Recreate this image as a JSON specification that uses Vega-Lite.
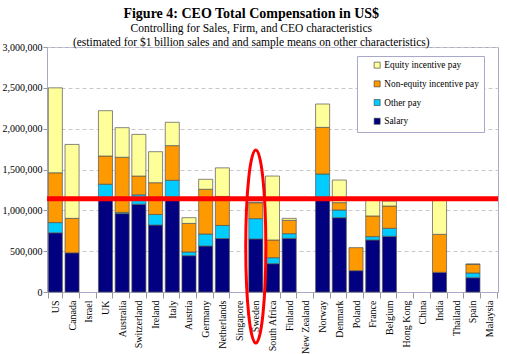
{
  "$schema": "https://vega.github.io/schema/vega-lite/v6.json",
  "width": 451,
  "height": 245,
  "autosize": {"type": "none"},
  "padding": {"left": 47, "top": 47, "right": 9, "bottom": 62},
  "background": "white",
  "title": {
    "text": "Figure 4: CEO Total Compensation in US$",
    "subtitle": ["Controlling for Sales, Firm, and CEO characteristics", "(estimated for $1 billion sales and and sample means on other characteristics)"],
    "font": "Liberation Serif",
    "fontSize": 14,
    "fontWeight": "bold",
    "color": "black",
    "subtitleFont": "Liberation Serif",
    "subtitleFontSize": 11.5,
    "subtitleColor": "black",
    "subtitleLineHeight": 14,
    "subtitlePadding": 2,
    "anchor": "middle",
    "frame": "bounds",
    "offset": -6
  },
  "config": {
    "view": {"stroke": "#a8a8c8", "strokeWidth": 1},
    "axis": {"labelFont": "Liberation Serif", "labelColor": "black", "labelFontSize": 10}
  },
  "datasets": {
    "pay": [
      {"country": "US", "component": "Salary", "value": 725000},
      {"country": "US", "component": "Other pay", "value": 125000},
      {"country": "US", "component": "Non-equity incentive pay", "value": 610000},
      {"country": "US", "component": "Equity incentive pay", "value": 1040000},
      {"country": "Canada", "component": "Salary", "value": 480000},
      {"country": "Canada", "component": "Non-equity incentive pay", "value": 422000},
      {"country": "Canada", "component": "Equity incentive pay", "value": 905000},
      {"country": "UK", "component": "Salary", "value": 1120000},
      {"country": "UK", "component": "Other pay", "value": 200000},
      {"country": "UK", "component": "Non-equity incentive pay", "value": 345000},
      {"country": "UK", "component": "Equity incentive pay", "value": 555000},
      {"country": "Australia", "component": "Salary", "value": 960000},
      {"country": "Australia", "component": "Other pay", "value": 15000},
      {"country": "Australia", "component": "Non-equity incentive pay", "value": 675000},
      {"country": "Australia", "component": "Equity incentive pay", "value": 362000},
      {"country": "Switzerland", "component": "Salary", "value": 1075000},
      {"country": "Switzerland", "component": "Other pay", "value": 115000},
      {"country": "Switzerland", "component": "Non-equity incentive pay", "value": 230000},
      {"country": "Switzerland", "component": "Equity incentive pay", "value": 510000},
      {"country": "Ireland", "component": "Salary", "value": 820000},
      {"country": "Ireland", "component": "Other pay", "value": 130000},
      {"country": "Ireland", "component": "Non-equity incentive pay", "value": 388000},
      {"country": "Ireland", "component": "Equity incentive pay", "value": 380000},
      {"country": "Italy", "component": "Salary", "value": 1125000},
      {"country": "Italy", "component": "Other pay", "value": 243000},
      {"country": "Italy", "component": "Non-equity incentive pay", "value": 424000},
      {"country": "Italy", "component": "Equity incentive pay", "value": 286000},
      {"country": "Austria", "component": "Salary", "value": 445000},
      {"country": "Austria", "component": "Other pay", "value": 45000},
      {"country": "Austria", "component": "Non-equity incentive pay", "value": 350000},
      {"country": "Austria", "component": "Equity incentive pay", "value": 70000},
      {"country": "Germany", "component": "Salary", "value": 563000},
      {"country": "Germany", "component": "Other pay", "value": 147000},
      {"country": "Germany", "component": "Non-equity incentive pay", "value": 548000},
      {"country": "Germany", "component": "Equity incentive pay", "value": 122000},
      {"country": "Netherlands", "component": "Salary", "value": 655000},
      {"country": "Netherlands", "component": "Other pay", "value": 160000},
      {"country": "Netherlands", "component": "Non-equity incentive pay", "value": 355000},
      {"country": "Netherlands", "component": "Equity incentive pay", "value": 350000},
      {"country": "Sweden", "component": "Salary", "value": 650000},
      {"country": "Sweden", "component": "Other pay", "value": 248000},
      {"country": "Sweden", "component": "Non-equity incentive pay", "value": 195000},
      {"country": "Sweden", "component": "Equity incentive pay", "value": 7000},
      {"country": "South Africa", "component": "Salary", "value": 347000},
      {"country": "South Africa", "component": "Other pay", "value": 73000},
      {"country": "South Africa", "component": "Non-equity incentive pay", "value": 217000},
      {"country": "South Africa", "component": "Equity incentive pay", "value": 783000},
      {"country": "Finland", "component": "Salary", "value": 657000},
      {"country": "Finland", "component": "Other pay", "value": 57000},
      {"country": "Finland", "component": "Non-equity incentive pay", "value": 164000},
      {"country": "Finland", "component": "Equity incentive pay", "value": 24000},
      {"country": "Norway", "component": "Salary", "value": 1125000},
      {"country": "Norway", "component": "Other pay", "value": 320000},
      {"country": "Norway", "component": "Non-equity incentive pay", "value": 571000},
      {"country": "Norway", "component": "Equity incentive pay", "value": 286000},
      {"country": "Denmark", "component": "Salary", "value": 910000},
      {"country": "Denmark", "component": "Other pay", "value": 94000},
      {"country": "Denmark", "component": "Non-equity incentive pay", "value": 90000},
      {"country": "Denmark", "component": "Equity incentive pay", "value": 277000},
      {"country": "Poland", "component": "Salary", "value": 261000},
      {"country": "Poland", "component": "Non-equity incentive pay", "value": 282000},
      {"country": "France", "component": "Salary", "value": 637000},
      {"country": "France", "component": "Other pay", "value": 41000},
      {"country": "France", "component": "Non-equity incentive pay", "value": 253000},
      {"country": "France", "component": "Equity incentive pay", "value": 210000},
      {"country": "Belgium", "component": "Salary", "value": 682000},
      {"country": "Belgium", "component": "Other pay", "value": 98000},
      {"country": "Belgium", "component": "Non-equity incentive pay", "value": 273000},
      {"country": "Belgium", "component": "Equity incentive pay", "value": 60000},
      {"country": "India", "component": "Salary", "value": 241000},
      {"country": "India", "component": "Non-equity incentive pay", "value": 465000},
      {"country": "India", "component": "Equity incentive pay", "value": 430000},
      {"country": "Spain", "component": "Salary", "value": 175000},
      {"country": "Spain", "component": "Other pay", "value": 58000},
      {"country": "Spain", "component": "Non-equity incentive pay", "value": 106000},
      {"country": "Spain", "component": "Equity incentive pay", "value": 3000}
    ]
  },
  "layer": [
    {
      "data": {"name": "pay"},
      "mark": {"type": "bar", "stroke": "#555555", "strokeWidth": 0.7},
      "encoding": {
        "x": {
          "field": "country",
          "type": "nominal",
          "sort": null,
          "scale": {
            "domain": ["US", "Canada", "Israel", "UK", "Australia", "Switzerland", "Ireland", "Italy", "Austria", "Germany", "Netherlands", "Singapore", "Sweden", "South Africa", "Finland", "New Zealand", "Norway", "Denmark", "Poland", "France", "Belgium", "Hong Kong", "China", "India", "Thailand", "Spain", "Malaysia"],
            "paddingInner": 0.16,
            "paddingOuter": 0.08
          },
          "axis": {
            "title": null,
            "labelAngle": 270,
            "labelFontSize": 10,
            "tickBand": "extent",
            "tickSize": 6,
            "tickColor": "#999999",
            "domainColor": "#a8a8c8",
            "labelPadding": 2,
            "grid": false
          }
        },
        "y": {
          "field": "value",
          "type": "quantitative",
          "stack": "zero",
          "scale": {"domain": [0, 3000000], "nice": false},
          "axis": {
            "title": null,
            "format": ",d",
            "values": [0, 500000, 1000000, 1500000, 2000000, 2500000, 3000000],
            "tickSize": 4,
            "tickColor": "#999999",
            "domainColor": "#a8a8c8",
            "labelPadding": 1,
            "grid": true,
            "gridDash": [4, 3],
            "gridColor": "#c8c8c8"
          }
        },
        "color": {
          "field": "component",
          "type": "nominal",
          "scale": {
            "domain": ["Equity incentive pay", "Non-equity incentive pay", "Other pay", "Salary"],
            "range": ["#FFFF99", "#FF9900", "#00CCFF", "#000080"]
          },
          "legend": {
            "orient": "none",
            "legendX": 310,
            "legendY": 9,
            "title": null,
            "symbolType": "square",
            "symbolSize": 36,
            "symbolStrokeColor": "#333333",
            "symbolStrokeWidth": 0.6,
            "labelFont": "Liberation Serif",
            "labelFontSize": 9.3,
            "labelColor": "black",
            "labelExpr": "datum.label + '\u00a0\u00a0\u00a0\u00a0'",
            "padding": 4.5,
            "rowPadding": 8.7,
            "symbolOffset": 11,
            "labelOffset": 2.5,
            "strokeColor": "#a8a8c8",
            "fillColor": "white"
          }
        },
        "order": {"field": "component", "sort": "descending"}
      }
    },
    {
      "data": {"values": [{"ref": 1142000}]},
      "mark": {"type": "rule", "color": "#FF0000", "strokeWidth": 5},
      "encoding": {"y": {"field": "ref", "type": "quantitative"}}
    },
    {
      "data": {"values": [{"country": "Sweden", "mid": 557000}]},
      "mark": {
        "type": "point",
        "filled": false,
        "stroke": "#FF0000",
        "strokeWidth": 3,
        "opacity": 1,
        "size": 37249,
        "shape": "M 0,-1 A 0.104,1 0 1,1 0,1 A 0.104,1 0 1,1 0,-1 Z"
      },
      "encoding": {
        "x": {"field": "country", "type": "nominal", "sort": null},
        "y": {"field": "mid", "type": "quantitative"}
      }
    }
  ]
}
